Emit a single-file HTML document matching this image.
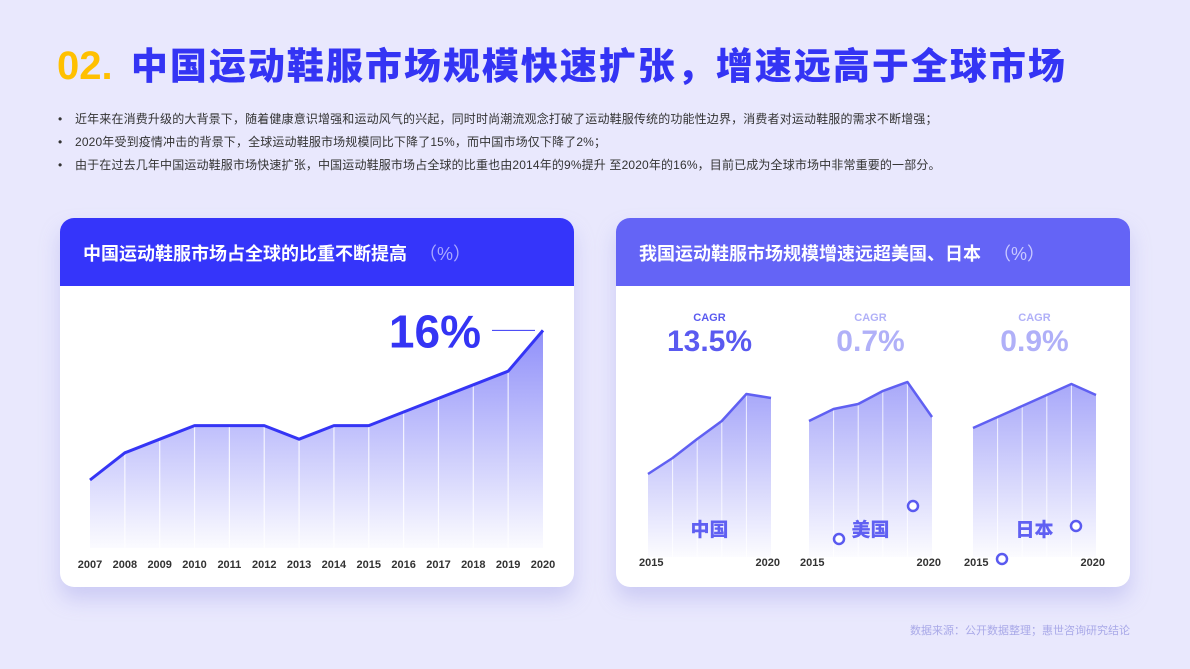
<!DOCTYPE html>
<html><head><meta charset="utf-8">
<style>
body{margin:0;width:1190px;height:669px;background:#e9e8fd;font-family:"Liberation Sans","Noto Sans CJK SC",sans-serif;position:relative;overflow:hidden}
.abs{position:absolute}
.title{left:57px;top:36px;font-size:37px;font-weight:900;color:#3434f4;white-space:nowrap;letter-spacing:2px}
.title span{color:#ffc000;font-size:40px;letter-spacing:0;margin-right:6px}
.bul{left:58px;font-size:12px;color:#333;white-space:nowrap;letter-spacing:0.15px}
.bul b{font-weight:normal;display:inline-block;width:17px}
.card{background:#fff;border-radius:14px;overflow:hidden;box-shadow:0 12px 20px rgba(150,150,230,0.35)}
.hd{position:absolute;left:0;top:0;right:0;height:68px;color:#fff;font-size:18px;font-weight:bold}
.hd div{position:absolute;left:23px;top:22px;white-space:nowrap}
.hd i{font-style:normal;font-weight:normal;color:#a9a9ff;margin-left:12px}
</style></head><body>
<div class="abs title"><span>02.</span> 中国运动鞋服市场规模快速扩张，增速远高于全球市场</div>
<div class="abs bul" style="top:110px"><b>•</b>近年来在消费升级的大背景下，随着健康意识增强和运动风气的兴起，同时时尚潮流观念打破了运动鞋服传统的功能性边界，消费者对运动鞋服的需求不断增强；</div>
<div class="abs bul" style="top:133px"><b>•</b>2020年受到疫情冲击的背景下，全球运动鞋服市场规模同比下降了15%，而中国市场仅下降了2%；</div>
<div class="abs bul" style="top:156px"><b>•</b>由于在过去几年中国运动鞋服市场快速扩张，中国运动鞋服市场占全球的比重也由2014年的9%提升 至2020年的16%，目前已成为全球市场中非常重要的一部分。</div>

<div class="abs card" style="left:60px;top:218px;width:514px;height:369px">
 <div class="hd" style="background:#3535fa"><div>中国运动鞋服市场占全球的比重不断提高<i>（%）</i></div></div>
</div>
<div class="abs card" style="left:616px;top:218px;width:514px;height:369px">
 <div class="hd" style="background:#6464f6"><div>我国运动鞋服市场规模增速远超美国、日本<i style="color:#c9c9ff">（%）</i></div></div>
</div>
<div class="abs" style="right:60px;top:622px;font-size:11px;color:#a9a9e8">数据来源：公开数据整理；惠世咨询研究结论</div>

<svg class="abs" style="left:0;top:0" width="1190" height="669" id="chart">
<defs>
<linearGradient id="g1" x1="0" y1="0" x2="0" y2="1"><stop offset="0" stop-color="#7c7cf8" stop-opacity="0.85"/><stop offset="1" stop-color="#7c7cf8" stop-opacity="0.03"/></linearGradient>
<linearGradient id="g2" x1="0" y1="0" x2="0" y2="1"><stop offset="0" stop-color="#8b8bf7" stop-opacity="0.75"/><stop offset="1" stop-color="#8b8bf7" stop-opacity="0.03"/></linearGradient>
</defs>
</svg>
<script>
const years=["2007","2008","2009","2010","2011","2012","2013","2014","2015","2016","2017","2018","2019","2020"];
const share=[5,7,8,9,9,9,8,9,9,10,11,12,13,16];
const smallYears=["2015","2016","2017","2018","2019","2020"];
const chinaIdx=[41.5,49.5,59,68,81.5,79.5];
const usaIdx=[68,74,76.5,83,87.5,70];
const japanIdx=[64.5,70,75.5,81,86.5,81];
const cagrLabels=["13.5%","0.7%","0.9%"];
const countryNames=["中国","美国","日本"];
const NS="http://www.w3.org/2000/svg";
const svg=document.getElementById('chart');
function mk(t,a){const e=document.createElementNS(NS,t);for(const k in a)e.setAttribute(k,a[k]);svg.appendChild(e);return e;}
const lx=i=>90+i*(543-90)/(years.length-1);
const ly=v=>548-v*13.6;
let pts=share.map((v,i)=>lx(i)+','+ly(v));
let area=mk('polygon',{points:lx(0)+',548 '+pts.join(' ')+' '+lx(years.length-1)+',548',fill:'url(#g1)'});


share.forEach((v,i)=>{if(i>0&&i<share.length-1){const l=mk('line',{x1:lx(i),x2:lx(i),y1:ly(v),y2:548,stroke:'#fff','stroke-width':1.2,'stroke-opacity':0.8});

}});
let line=mk('polyline',{points:pts.join(' '),fill:'none',stroke:'#3535f5','stroke-width':3,'stroke-linejoin':'round'});


years.forEach((y,i)=>{const t=mk('text',{x:lx(i),y:568,'text-anchor':'middle','font-size':11,'font-weight':'bold',fill:'#333'});t.textContent=y;

});
const last=share.length-1;
let big=mk('text',{x:lx(last)-62,y:ly(share[last])+17,'text-anchor':'end','font-size':46,'font-weight':'900',fill:'#3434f4'});big.textContent=share[last]+'%';


let ld=mk('line',{x1:lx(last)-51,x2:lx(last)-8,y1:ly(share[last]),y2:ly(share[last]),stroke:'#3434f4','stroke-width':1});


const sy=v=>557-v*2;
const series=[chinaIdx,usaIdx,japanIdx];
const x0s=[648,809,973];
const colors=['#6060f2','#6060f2','#6060f2'];
const topCol=['#5a5af0','#b0b0f8','#b0b0f8'];
const circles=[[],[[839,539],[913,506]],[[1002,559],[1076,526]]];
series.forEach((s,k)=>{
 const sx=i=>x0s[k]+i*24.6;
 const p=s.map((v,i)=>sx(i)+','+sy(v));
 const a=mk('polygon',{points:sx(0)+',557 '+p.join(' ')+' '+sx(s.length-1)+',557',fill:'url(#g2)'});
 
 
 s.forEach((v,i)=>{if(i>0&&i<s.length-1){const l=mk('line',{x1:sx(i),x2:sx(i),y1:sy(v),y2:557,stroke:'#fff','stroke-width':1,'stroke-opacity':0.8});
 
 }});
 const pl=mk('polyline',{points:p.join(' '),fill:'none',stroke:colors[k],'stroke-width':2.5,'stroke-linejoin':'round'});
 
 
 const cx=sx(2.5);
 const c1=mk('text',{x:cx,y:321,'text-anchor':'middle','font-size':11,'font-weight':'bold',fill:topCol[k]});c1.textContent='CAGR';
 
 
 const c2=mk('text',{x:cx,y:351,'text-anchor':'middle','font-size':30,'font-weight':'900',fill:topCol[k]});c2.textContent=cagrLabels[k];
 
 
 const nm=mk('text',{x:cx,y:536,'text-anchor':'middle','font-size':19,'font-weight':'900',fill:'#6060f2'});nm.textContent=countryNames[k];
 
 
 const t1=mk('text',{x:sx(0)-9,y:566,'font-size':11,'font-weight':'bold',fill:'#333'});t1.textContent=smallYears[0];
 
 
 const t2=mk('text',{x:sx(s.length-1)+9,y:566,'text-anchor':'end','font-size':11,'font-weight':'bold',fill:'#333'});t2.textContent=smallYears[smallYears.length-1];
 
 
 circles[k].forEach(c=>{const ci=mk('circle',{cx:c[0],cy:c[1],r:5,fill:'#fff',stroke:'#5a5af0','stroke-width':2.5});
 
 });
});
</script>
</body></html>
